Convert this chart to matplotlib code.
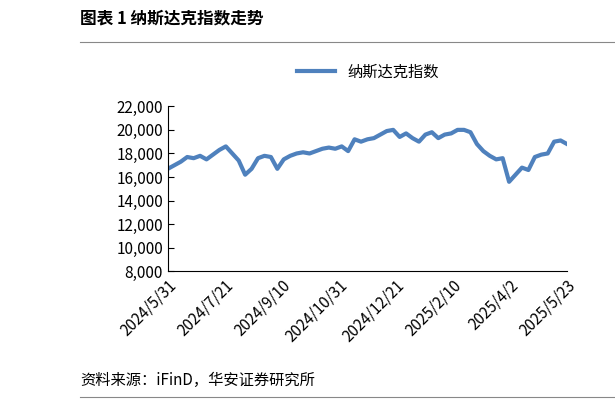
import numpy as np
import pandas as pd
import matplotlib.pyplot as plt

plt.rcParams['font.family'] = ['Noto Sans CJK SC', 'DejaVu Sans']

# Nasdaq index (roughly weekly)
values = [16.7, 17.0, 17.3, 17.7, 17.6, 17.8, 17.5,
          17.9, 18.3, 18.6, 18.0, 17.4,
          16.2, 16.7, 17.6, 17.8, 17.7,
          16.7, 17.5, 17.8, 18.0, 18.1,
          18.0, 18.2, 18.4, 18.5, 18.4, 18.6,
          18.2, 19.2, 19.0, 19.2, 19.3,
          19.6, 19.9, 20.0, 19.4, 19.7,
          19.3, 19.0, 19.6, 19.8, 19.3,
          19.6, 19.7, 20.0, 20.0, 19.8,
          18.8, 18.2, 17.8, 17.5,
          17.6, 15.6, 16.2, 16.8, 16.6,
          17.7, 17.9, 18.0, 19.0, 19.1, 18.8]
values = np.array(values) * 1000
dates = pd.date_range('2024-05-31', '2025-05-23', periods=len(values))
tick_dates = pd.date_range('2024-05-31', periods=8, freq='51D')
tick_labels = ['2024/5/31', '2024/7/21', '2024/9/10', '2024/10/31',
               '2024/12/21', '2025/2/10', '2025/4/2', '2025/5/23']

fig = plt.figure(figsize=(6.15, 4.01), dpi=100)
ax = fig.add_axes([0.273, 0.323, 0.649, 0.412])
ax.plot(dates, values, color='#4f81bd', lw=3, label='纳斯达克指数')
ax.set_ylim(8000, 22000)
ax.set_yticks(range(8000, 22001, 2000))
ax.yaxis.set_major_formatter(plt.FuncFormatter(lambda v, p: f'{int(v):,}'))
ax.set_xlim(dates[0], dates[-1])
ax.set_xticks(tick_dates)
ax.set_xticklabels(tick_labels, rotation=45, ha='right', rotation_mode='anchor')
ax.tick_params(labelsize=11, direction='in', length=4)
ax.tick_params(axis='x', length=0)
for s in ['top', 'right']:
    ax.spines[s].set_visible(False)
ax.legend(loc='upper center', bbox_to_anchor=(0.5, 1.34), frameon=False,
          fontsize=11, handlelength=2.5)

fig.text(0.13, 0.955, '图表 1 纳斯达克指数走势', fontsize=12, fontweight='bold', va='center')
fig.add_artist(plt.Line2D([0.13, 1.0], [0.895, 0.895], color='#888888', lw=0.8))
fig.add_artist(plt.Line2D([0.13, 1.0], [0.01, 0.01], color='#888888', lw=0.8))
fig.text(0.13, 0.05, '资料来源：iFinD，华安证券研究所', fontsize=11, va='center')

fig.savefig('out.png')
